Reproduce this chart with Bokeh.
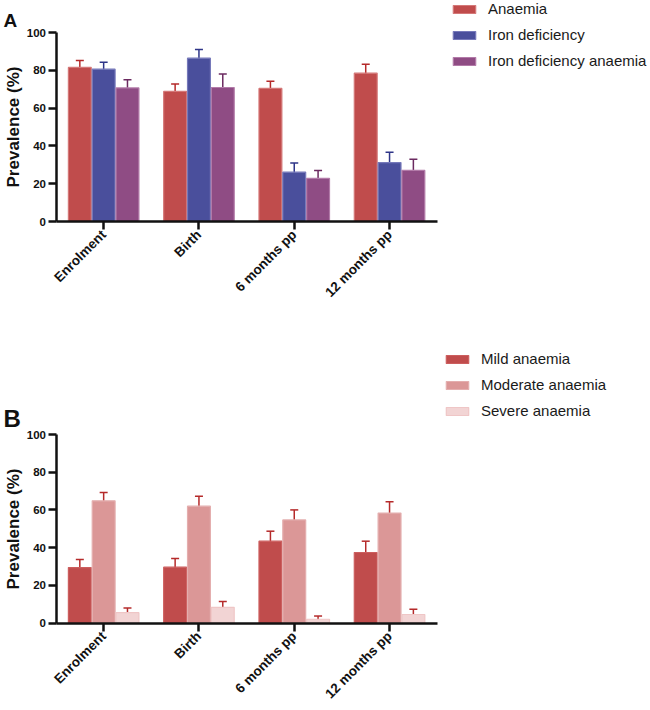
import numpy as np
from math import pi
from bokeh.plotting import figure
from bokeh.models import (ColumnDataSource, Range1d, FixedTicker, Whisker, TeeHead,
                          Legend, LegendItem, Label)
from bokeh.layouts import column
from bokeh.embed import file_html
from bokeh.resources import INLINE

categories = ["Enrolment", "Birth", "6 months pp", "12 months pp"]
y_ticks = [0, 20, 40, 60, 80, 100]

# Panel A
anaemia = [81.5, 68.8, 70.4, 78.5]
anaemia_lo = [78.1, 64.7, 67.0, 74.1]
anaemia_hi = [85.2, 72.8, 74.2, 83.2]
iron_def = [80.6, 86.4, 26.1, 31.2]
iron_def_lo = [77.1, 82.2, 21.9, 25.8]
iron_def_hi = [84.3, 91.0, 30.9, 36.7]
ida = [70.7, 70.9, 22.8, 27.0]
ida_lo = [67.0, 64.4, 18.9, 21.9]
ida_hi = [75.0, 78.1, 27.0, 33.0]

# Panel B
mild = [29.4, 29.6, 43.4, 37.4]
mild_lo = [25.7, 25.2, 38.6, 31.9]
mild_hi = [33.7, 34.2, 48.7, 43.4]
moderate = [64.8, 62.0, 54.7, 58.3]
moderate_lo = [60.7, 57.2, 49.9, 52.6]
moderate_hi = [69.2, 67.3, 60.0, 64.3]
severe = [5.5, 8.3, 2.0, 4.5]
severe_lo = [3.7, 5.7, 0.3, 2.1]
severe_hi = [8.0, 11.4, 3.7, 7.3]

FONT = "Liberation Sans"
INK = "#111111"
W = 648
AXIS_X = 55.5        # pixel position of the y axis
CAT_PX = 95.3        # pixels per category
X_START = -0.5 - AXIS_X / CAT_PX
X_END = X_START + W / CAT_PX


def make_panel(height, y100_px, y0_px, series, legend_left, legend_top,
               legend_font, letter, letter_base_px, letter_size):
    ppu = (y0_px - y100_px) / 100.0          # pixels per y unit
    y_end = y0_px / ppu
    y_start = -(height - y0_px) / ppu
    p = figure(width=W, height=height, output_backend="svg", toolbar_location=None,
               x_range=Range1d(X_START, X_END), y_range=Range1d(y_start, y_end),
               min_border_left=0, min_border_right=0, min_border_top=0,
               min_border_bottom=0)
    p.outline_line_color = None
    p.xgrid.visible = False
    p.ygrid.visible = False

    x = np.arange(len(categories))
    items = []
    for label, vals, lo, hi, fill, edge, err, off in series:
        src = ColumnDataSource(dict(x=x + off, top=vals, lo=lo, hi=hi))
        r = p.vbar(x="x", top="top", bottom=0, width=0.24, source=src,
                   fill_color=fill, line_color=edge, line_width=1.2)
        p.add_layout(Whisker(source=src, base="x", upper="hi", lower="lo",
                             line_color=err, line_width=1.5,
                             upper_head=TeeHead(size=8, line_color=err, line_width=1.5),
                             lower_head=TeeHead(size=8, line_color=err, line_width=1.5)))
        items.append(LegendItem(label=label, renderers=[r]))

    leg_h = 3 * 17 + 2 * 9
    leg = Legend(items=items, location=(legend_left, height - legend_top - leg_h),
                 orientation="vertical",
                 padding=0, margin=0, border_line_color=None, background_fill_alpha=0,
                 glyph_width=28, glyph_height=10, label_standoff=10,
                 label_height=17, spacing=9,
                 label_text_font=FONT, label_text_font_size=legend_font,
                 label_text_color="#1a1a1a")
    p.add_layout(leg)

    ya = p.yaxis[0]
    ya.fixed_location = -0.5
    ya.bounds = (0, 100)
    ya.ticker = FixedTicker(ticks=y_ticks)
    ya.axis_line_width = 2.5
    ya.axis_line_color = INK
    ya.major_tick_line_width = 2.5
    ya.major_tick_line_color = INK
    ya.major_tick_out = 8
    ya.major_tick_in = 0
    ya.minor_tick_line_color = None
    ya.major_label_text_font = FONT
    ya.major_label_text_font_style = "bold"
    ya.major_label_text_font_size = "11.5px"
    ya.major_label_text_color = INK
    ya.major_label_standoff = 2
    ya.axis_label = "Prevalence (%)"
    ya.axis_label_text_font = FONT
    ya.axis_label_text_font_style = "bold"
    ya.axis_label_text_font_size = "17px"
    ya.axis_label_text_color = INK
    ya.axis_label_standoff = 1

    xa = p.xaxis[0]
    xa.fixed_location = 0
    xa.ticker = FixedTicker(ticks=list(range(len(categories))))
    xa.major_label_overrides = {i: c for i, c in enumerate(categories)}
    xa.bounds = (-0.5, len(categories) - 0.5)
    xa.axis_line_width = 2.5
    xa.axis_line_color = INK
    xa.major_tick_line_width = 2.5
    xa.major_tick_line_color = INK
    xa.major_tick_out = 8
    xa.major_tick_in = 0
    xa.minor_tick_line_color = None
    xa.major_label_orientation = pi / 4
    xa.major_label_text_font = FONT
    xa.major_label_text_font_style = "bold"
    xa.major_label_text_font_size = "13.5px"
    xa.major_label_text_color = INK
    xa.major_label_standoff = 3

    p.add_layout(Label(x=X_START + 3 / CAT_PX,
                       y=(y0_px - letter_base_px) / ppu,
                       text=letter, text_font=FONT, text_font_style="bold",
                       text_font_size=letter_size, text_baseline="alphabetic",
                       text_align="left", text_color=INK))
    return p


series_a = [
    ("Anaemia", anaemia, anaemia_lo, anaemia_hi, "#C04C4C", "#D47878", "#B52A2A", -0.25),
    ("Iron deficiency", iron_def, iron_def_lo, iron_def_hi, "#4A4F9C", "#7679BA", "#2E3588", 0.0),
    ("Iron deficiency anaemia", ida, ida_lo, ida_hi, "#8F4C84", "#B27AA8", "#6B2A60", 0.25),
]
series_b = [
    ("Mild anaemia", mild, mild_lo, mild_hi, "#C04C4C", "#CC5E5E", "#B52A2A", -0.25),
    ("Moderate anaemia", moderate, moderate_lo, moderate_hi, "#DB9797", "#E4AEAE", "#B52A2A", 0.0),
    ("Severe anaemia", severe, severe_lo, severe_hi, "#F2D4D4", "#EFC6C6", "#B52A2A", 0.25),
]

# Panel A: page rows 0..340; y=100 at 32, y=0 at 221
pA = make_panel(340, 32, 221, series_a, 450, 0, "15px", "A", 20, "19px")
# Panel B: page rows 340..708; y=100 at 434, y=0 at 622.5
pB = make_panel(368, 94, 282.5, series_b, 443, 10, "15px", "B", 78, "24px")

layout = column(pA, pB, spacing=0)
open("out.html", "w").write(file_html(layout, INLINE))
